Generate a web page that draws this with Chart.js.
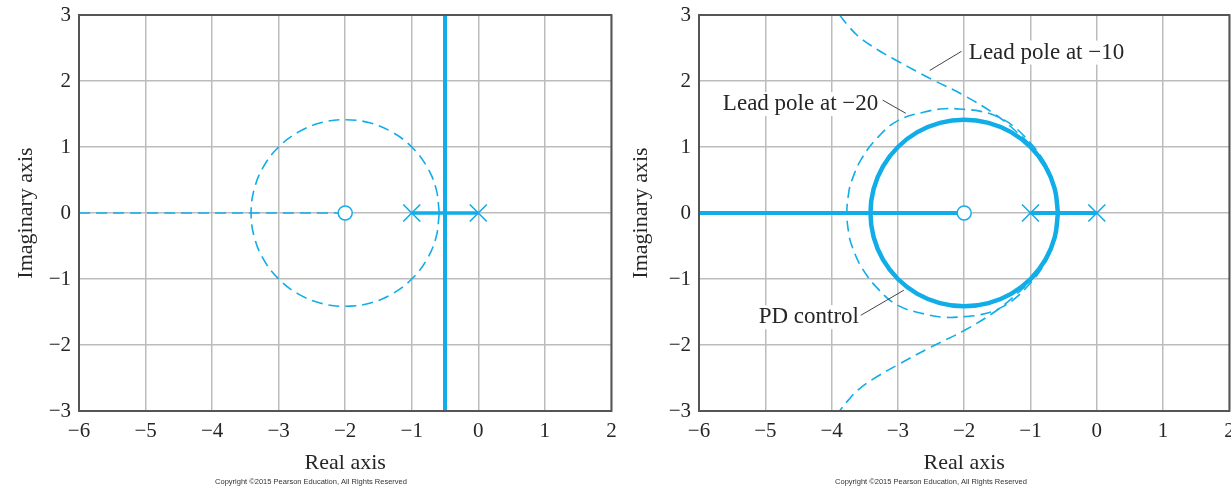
<!DOCTYPE html>
<html>
<head>
<meta charset="utf-8">
<script src="https://cdn.jsdelivr.net/npm/chart.js@4.4.1/dist/chart.umd.min.js"></script>
<style>
    html, body { margin: 0; padding: 0; background: #fff; overflow: hidden; }
    body { width: 1231px; height: 488px; position: relative; }
    .panel { position: absolute; top: 0; height: 488px; }
    #leftPanel { left: 0; width: 625px; }
    #rightPanel { left: 615px; width: 628px; }
</style>
</head>
<body>
<div class="panel" id="leftPanel"><canvas id="leftChart"></canvas></div>
<div class="panel" id="rightPanel"><canvas id="rightChart"></canvas></div>
<script>
// axis ticks
const xTicks = [-6, -5, -4, -3, -2, -1, 0, 1, 2];
const yTicks = [-3, -2, -1, 0, 1, 2, 3];

// open loop poles and zero
const poles = [[-1, 0], [0, 0]];
const zeros = [[-2, 0]];

// left plot
const leftRealDashed = [[-6, 0], [-2, 0]];
const leftRealSolid = [[-1, 0], [0, 0]];
const leftVertical = [[-0.5, -3], [-0.5, 3]];

// PD control circle (used dashed on the left, solid on the right)
const pdCircle = [
    [-0.586, 0], [-0.634, 0.366], [-0.775, 0.707], [-1.0, 1.0], [-1.293, 1.225], [-1.634, 1.366],
    [-2.0, 1.414], [-2.366, 1.366], [-2.707, 1.225], [-3.0, 1.0], [-3.225, 0.707], [-3.366, 0.366],
    [-3.414, 0], [-3.366, -0.366], [-3.225, -0.707], [-3.0, -1.0], [-2.707, -1.225], [-2.366, -1.366],
    [-2.0, -1.414], [-1.634, -1.366], [-1.293, -1.225], [-1.0, -1.0], [-0.775, -0.707], [-0.634, -0.366],
    [-0.586, 0]
];

// right plot
const pdRealLeft = [[-6, 0], [-2, 0]];
const pdRealRight = [[-1, 0], [0, 0]];
const lead20 = [
    [-0.58, 0], [-0.59, 0.18], [-0.62, 0.35], [-0.72, 0.64], [-0.85, 0.87], [-1.0, 1.06], [-1.25, 1.31],
    [-1.5, 1.46], [-1.75, 1.54], [-2.0, 1.57], [-2.3, 1.58], [-2.6, 1.53], [-3.0, 1.4], [-3.3, 1.15],
    [-3.55, 0.82], [-3.7, 0.48], [-3.74, 0.32], [-3.77, 0],
    [-3.74, -0.32], [-3.7, -0.48], [-3.55, -0.82], [-3.3, -1.15], [-3.0, -1.4], [-2.6, -1.53],
    [-2.3, -1.58], [-2.0, -1.57], [-1.75, -1.54], [-1.5, -1.46], [-1.25, -1.31], [-1.0, -1.06],
    [-0.85, -0.87], [-0.72, -0.64], [-0.62, -0.35], [-0.59, -0.18], [-0.58, 0]
];
const lead10 = [
    [-3.88, 3.0], [-3.76, 2.85], [-3.6, 2.68], [-3.3, 2.47], [-3.0, 2.3], [-2.5, 2.03], [-2.0, 1.78],
    [-1.5, 1.47], [-1.2, 1.22], [-0.97, 1.0], [-0.82, 0.8], [-0.69, 0.55], [-0.61, 0.3], [-0.58, 0],
    [-0.61, -0.3], [-0.69, -0.55], [-0.82, -0.8], [-0.97, -1.0], [-1.2, -1.22], [-1.5, -1.47],
    [-2.0, -1.78], [-2.5, -2.03], [-3.0, -2.3], [-3.3, -2.47], [-3.6, -2.68], [-3.76, -2.85], [-3.88, -3.0]
];

const blue = '#10ade8';
const gridColor = '#bcbcbc';
const textColor = '#262626';
const serif = "'Liberation Serif', 'Times New Roman', serif";
const tickFont = { family: serif, size: 21, lineHeight: 1.2 };
const titleFont = { family: serif, size: 22, lineHeight: 1.2 };

const toXY = (arr) => arr.map(p => ({ x: p[0], y: p[1] }));
const fmt = (v) => v < 0 ? '\u2212' + Math.abs(v) : String(v);

const markerSets = () => [
    {
        data: toXY(zeros), showLine: false, pointStyle: 'circle', pointRadius: 7,
        pointBackgroundColor: '#fff', pointBorderColor: blue, pointBorderWidth: 1.5
    },
    {
        data: toXY(poles), showLine: false, pointStyle: 'crossRot', pointRadius: 12,
        pointBorderColor: blue, pointBorderWidth: 1.6
    }
];

const lineSet = (arr, dashed, width) => ({
    data: toXY(arr),
    showLine: true,
    pointRadius: 0,
    borderColor: blue,
    borderWidth: width,
    borderDash: dashed ? [11, 6] : [],
    tension: 0.4,
    fill: false
});

const makeScales = (yWidth) => ({
    x: {
        type: 'linear',
        min: xTicks[0],
        max: xTicks[xTicks.length - 1],
        afterBuildTicks: (s) => { s.ticks = xTicks.map(v => ({ value: v })); },
        afterFit: (s) => { s.height = 77; },
        grid: { color: gridColor, lineWidth: 1.5, drawTicks: false },
        border: { display: false },
        ticks: { padding: 8, color: textColor, font: tickFont, callback: fmt, maxRotation: 0, autoSkip: false },
        title: { display: true, text: 'Real axis', color: textColor, font: titleFont, padding: { top: 0, bottom: 12 } }
    },
    y: {
        type: 'linear',
        min: yTicks[0],
        max: yTicks[yTicks.length - 1],
        afterBuildTicks: (s) => { s.ticks = yTicks.map(v => ({ value: v })); },
        afterFit: (s) => { s.width = yWidth; s.paddingTop = 0; s.paddingBottom = 0; },
        grid: { color: gridColor, lineWidth: 1.5, drawTicks: false },
        border: { display: false },
        ticks: { padding: 8, color: textColor, font: tickFont, callback: fmt, autoSkip: false },
        title: { display: true, text: 'Imaginary axis', color: textColor, font: titleFont, padding: { top: 13, bottom: 0 } }
    }
});

// frame, copyright line and the callout labels
const decorPlugin = {
    id: 'decor',
    afterDraw(chart, args, opts) {
        const ctx = chart.ctx;
        const area = chart.chartArea;
        const xs = chart.scales.x;
        const ys = chart.scales.y;
        ctx.save();
        ctx.strokeStyle = '#555';
        ctx.lineWidth = 2;
        ctx.strokeRect(area.left, area.top, area.right - area.left, area.bottom - area.top);

        ctx.fillStyle = '#333';
        ctx.font = "7.5px 'Liberation Sans', Arial, sans-serif";
        ctx.textAlign = 'center';
        ctx.textBaseline = 'alphabetic';
        ctx.fillText('Copyright \u00A92015 Pearson Education, All Rights Reserved', area.left + 232, 484);

        (opts.notes || []).forEach(n => {
            const tx = xs.getPixelForValue(n.at[0]);
            const ty = ys.getPixelForValue(n.at[1]);
            ctx.font = "23px " + serif;
            ctx.textAlign = 'left';
            const w = ctx.measureText(n.text).width;
            ctx.fillStyle = '#fff';
            ctx.fillRect(tx - 3, ty - 18, w + 6, 24);
            ctx.fillStyle = textColor;
            ctx.fillText(n.text, tx, ty);
            ctx.strokeStyle = '#444';
            ctx.lineWidth = 1;
            ctx.beginPath();
            ctx.moveTo(xs.getPixelForValue(n.from[0]), ys.getPixelForValue(n.from[1]));
            ctx.lineTo(xs.getPixelForValue(n.to[0]), ys.getPixelForValue(n.to[1]));
            ctx.stroke();
        });
        ctx.restore();
    }
};

const baseOptions = (yWidth, notes) => ({
    responsive: true,
    maintainAspectRatio: false,
    animation: false,
    events: [],
    layout: { padding: { top: 15, right: 0, left: 0, bottom: 0 } },
    scales: makeScales(yWidth),
    plugins: {
        legend: { display: false },
        tooltip: { enabled: false },
        decor: { notes: notes }
    }
});

new Chart(document.getElementById('leftChart'), {
    type: 'scatter',
    data: {
        datasets: [
            ...markerSets(),
            lineSet(leftVertical, false, 4),
            lineSet(leftRealSolid, false, 3.5),
            lineSet(leftRealDashed, true, 1.6),
            lineSet(pdCircle, true, 1.6)
        ]
    },
    options: baseOptions(79, []),
    plugins: [decorPlugin]
});

new Chart(document.getElementById('rightChart'), {
    type: 'scatter',
    data: {
        datasets: [
            ...markerSets(),
            lineSet(pdRealLeft, false, 4),
            lineSet(pdRealRight, false, 4),
            lineSet(pdCircle, false, 4.5),
            lineSet(lead20, true, 1.6),
            lineSet(lead10, true, 1.6)
        ]
    },
    options: baseOptions(84, [
        { text: 'Lead pole at \u221210', at: [-1.93, 2.34], from: [-2.04, 2.45], to: [-2.52, 2.16] },
        { text: 'Lead pole at \u221220', at: [-5.64, 1.56], from: [-3.23, 1.71], to: [-2.88, 1.51] },
        { text: 'PD control', at: [-5.10, -1.67], from: [-3.56, -1.55], to: [-2.91, -1.17] }
    ]),
    plugins: [decorPlugin]
});
</script>
</body>
</html>
